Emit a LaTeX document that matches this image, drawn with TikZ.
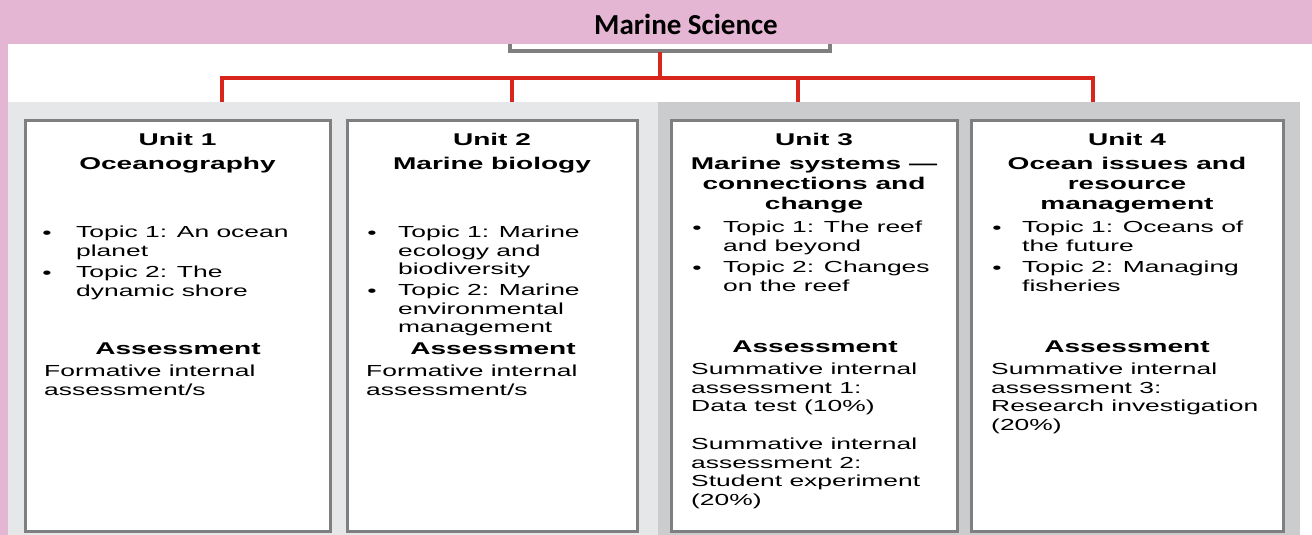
\documentclass[tikz,border=0pt]{standalone}
\usepackage{fontspec}
\setmainfont{Liberation Sans}[FakeStretch=1.65]
\newfontfamily\titlefont{Carlito}
\definecolor{bannerpink}{HTML}{E5B6D3}
\definecolor{panelA}{HTML}{E6E7E9}
\definecolor{panelB}{HTML}{CBCCCE}
\definecolor{linkred}{HTML}{D9261C}
\definecolor{boxgray}{HTML}{7F7F7F}
\begin{document}
\begin{tikzpicture}[x=1pt,y=-1pt,
  unitbox/.style={draw=boxgray,line width=3pt,fill=white},
  link/.style={draw=linkred,line width=3.5pt},
  unithead/.style={font=\bfseries\fontsize{17}{20}\selectfont,inner sep=0pt,anchor=base},
  unittitle/.style={font=\bfseries\fontsize{17}{20}\selectfont,inner sep=0pt,anchor=north,align=center},
  body/.style={font=\fontsize{16}{18.6}\selectfont,inner sep=0pt,anchor=north west,align=left},
  bul/.style={font=\fontsize{16}{18.6}\selectfont,inner sep=0pt,anchor=base},
  asshead/.style={font=\bfseries\fontsize{17}{20}\selectfont,inner sep=0pt,anchor=base}
]
\useasboundingbox (0,0) rectangle (1312,535);
% background
\fill[white] (0,0) rectangle (1312,535);
\fill[bannerpink] (0,0) rectangle (8,535);
\fill[panelA] (8,102) rectangle (658,535);
\fill[panelB] (658,102) rectangle (1300,535);
% root box (mostly hidden behind banner)
\node[draw=boxgray,line width=3.5pt,fill=white,minimum width=320pt,minimum height=62pt,inner sep=0pt] (root) at (670,20) {};
% banner
\fill[bannerpink] (0,0) rectangle (1312,44);
\node[font=\titlefont\bfseries\fontsize{29}{32}\selectfont,inner sep=0pt] (title) at (686,24) {Marine Science};
% connectors
\coordinate (rs) at (660,52.5);
\coordinate (j) at (660,78);
\coordinate (d1) at (222,102);
\coordinate (d2) at (512,102);
\coordinate (d3) at (798,102);
\coordinate (d4) at (1093,102);
\draw[link] (rs) -- (j);
\draw[link] (j) -| (d1);
\draw[link] (j) -| (d2);
\draw[link] (j) -| (d3);
\draw[link] (j) -| (d4);
% unit boxes
\node[unitbox,minimum width=305pt,minimum height=411pt,inner sep=0pt] (u1) at (177.5,325.5) {};
\node[unitbox,minimum width=290pt,minimum height=411pt,inner sep=0pt] (u2) at (492,325.5) {};
\node[unitbox,minimum width=286pt,minimum height=411pt,inner sep=0pt] (u3) at (814,325.5) {};
\node[unitbox,minimum width=312pt,minimum height=411pt,inner sep=0pt] (u4) at (1127,325.5) {};
% Unit 1
\node[unithead] (u1h) at (177.5,145.5) {Unit 1};
\node[unittitle] (u1t) at (177.5,157.3) {Oceanography};
\node[bul] (u1b1) at (47,238) {•};
\node[body] (u1i1) at (76,226) {Topic 1: An ocean\\planet};
\node[bul] (u1b2) at (47,278) {•};
\node[body] (u1i2) at (76,266) {Topic 2: The\\dynamic shore};
\node[asshead] (u1a) at (178,354.5) {Assessment};
\node[body] (u1x) at (44,365) {Formative internal\\assessment/s};
% Unit 2
\node[unithead] (u2h) at (492,145.5) {Unit 2};
\node[unittitle] (u2t) at (492,157.3) {Marine biology};
\node[bul] (u2b1) at (372,238) {•};
\node[body] (u2i1) at (398,226) {Topic 1: Marine\\ecology and\\biodiversity};
\node[bul] (u2b2) at (372,296) {•};
\node[body] (u2i2) at (398,284) {Topic 2: Marine\\environmental\\management};
\node[asshead] (u2a) at (493,354.5) {Assessment};
\node[body] (u2x) at (366,365) {Formative internal\\assessment/s};
% Unit 3
\node[unithead] (u3h) at (814,145.5) {Unit 3};
\node[unittitle] (u3t) at (814,157.3) {Marine systems ---\\connections and\\change};
\node[bul] (u3b1) at (697,233) {•};
\node[body] (u3i1) at (723,221) {Topic 1: The reef\\and beyond};
\node[bul] (u3b2) at (697,273) {•};
\node[body] (u3i2) at (723,261) {Topic 2: Changes\\on the reef};
\node[asshead] (u3a) at (815,352.5) {Assessment};
\node[body] (u3x1) at (691,363) {Summative internal\\assessment 1:\\Data test (10\%)};
\node[body] (u3x2) at (691,438) {Summative internal\\assessment 2:\\Student experiment\\(20\%)};
% Unit 4
\node[unithead] (u4h) at (1127,145.5) {Unit 4};
\node[unittitle] (u4t) at (1127,157.3) {Ocean issues and\\resource\\management};
\node[bul] (u4b1) at (997,233) {•};
\node[body] (u4i1) at (1022,221) {Topic 1: Oceans of\\the future};
\node[bul] (u4b2) at (997,273) {•};
\node[body] (u4i2) at (1022,261) {Topic 2: Managing\\fisheries};
\node[asshead] (u4a) at (1127,352.5) {Assessment};
\node[body] (u4x) at (991,363) {Summative internal\\assessment 3:\\Research investigation\\(20\%)};
\end{tikzpicture}
\end{document}
